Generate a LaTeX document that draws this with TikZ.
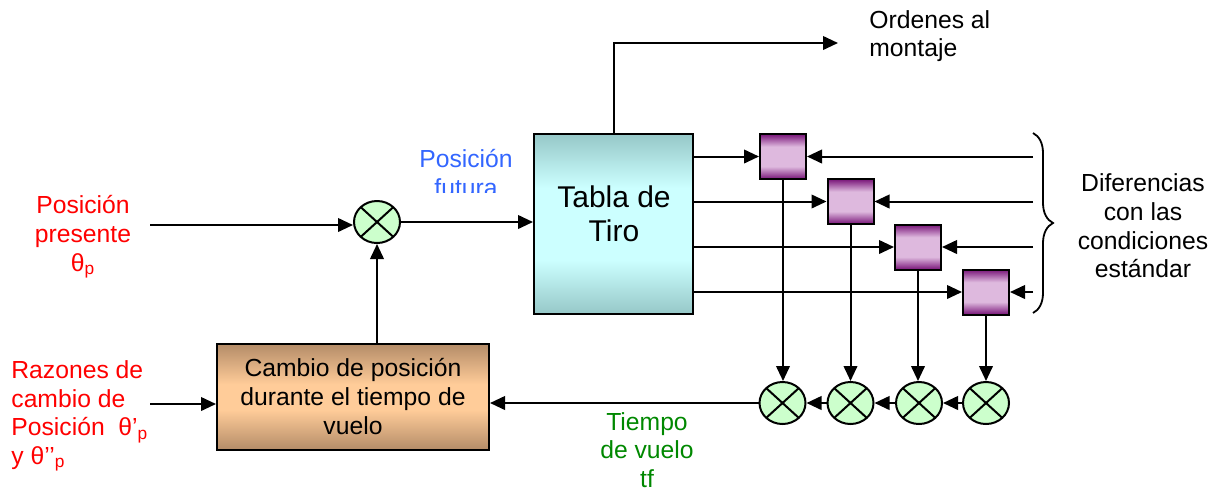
\documentclass[tikz,border=0pt]{standalone}
\usepackage{fontspec}
\setmainfont{Liberation Sans}
\usetikzlibrary{arrows.meta,shapes.geometric,decorations.pathreplacing}
\definecolor{tdk}{RGB}{150,200,200}
\definecolor{tlt}{RGB}{204,255,255}
\definecolor{pdk}{RGB}{120,20,120}
\definecolor{plt}{RGB}{222,185,222}
\definecolor{bdk}{RGB}{180,140,104}
\definecolor{blt}{RGB}{255,204,153}
\definecolor{cgreen}{RGB}{204,255,204}
\definecolor{tred}{RGB}{255,0,0}
\definecolor{tblue}{RGB}{51,102,255}
\definecolor{tgreen}{RGB}{0,136,0}
\pgfdeclareverticalshading{tabsh}{100bp}{color(0bp)=(tdk); color(25bp)=(tdk); color(40bp)=(tlt); color(60bp)=(tlt); color(75bp)=(tdk); color(100bp)=(tdk)}
\pgfdeclareverticalshading{purpsh}{100bp}{color(0bp)=(pdk); color(25bp)=(pdk); color(39bp)=(plt); color(61bp)=(plt); color(75bp)=(pdk); color(100bp)=(pdk)}
\pgfdeclareverticalshading{brownsh}{100bp}{color(0bp)=(bdk); color(25bp)=(bdk); color(44bp)=(blt); color(56bp)=(blt); color(75bp)=(bdk); color(100bp)=(bdk)}
\begin{document}
\begin{tikzpicture}[x=0.5pt,y=-0.5pt,
  lbl/.style={inner sep=0pt, font=\fontsize{12.35pt}{14.3pt}\selectfont},
  arr/.style={line width=1pt, -{Triangle[length=7.5pt,width=6.8pt]}},
  sumnode/.style={ellipse, draw, line width=1pt, fill=cgreen, inner sep=0pt,
    minimum width=23pt, minimum height=21pt,
    path picture={\draw[line width=1pt] (path picture bounding box.north west) -- (path picture bounding box.south east)
      (path picture bounding box.north east) -- (path picture bounding box.south west);}},
  tablabox/.style={draw, line width=1pt, shade, shading=tabsh, minimum width=79.5pt, minimum height=90pt, inner sep=0pt},
  pbox/.style={draw, line width=1pt, shade, shading=purpsh, minimum width=23pt, minimum height=22.5pt, inner sep=0pt},
  cambiobox/.style={draw, line width=1pt, shade, shading=brownsh, minimum width=136pt, minimum height=53pt, inner sep=0pt,
    align=center, font=\fontsize{12.35pt}{14.5pt}\selectfont}
]
\useasboundingbox (0,0) rectangle (1226,494);

% main blocks
\node[sumnode] (s0) at (377,222) {};
\node[tablabox] (tabla) at (613.5,224) {};
\node[inner sep=0pt, align=center, font=\fontsize{15pt}{17pt}\selectfont] (tablat) at (614,214) {Tabla de\\Tiro};
\node[cambiobox] (cambio) at (353,397) {Cambio de posición\\durante el tiempo de\\vuelo};

\node[pbox] (p1) at (783,156.5) {};
\node[pbox] (p2) at (850.5,201.5) {};
\node[pbox] (p3) at (918,247) {};
\node[pbox] (p4) at (986,292) {};

\node[sumnode] (c1) at (782.5,403) {};
\node[sumnode] (c2) at (850.5,403) {};
\node[sumnode] (c3) at (919,403) {};
\node[sumnode] (c4) at (986,403) {};

% free ends
\coordinate (inP) at (150,225);
\coordinate (inR) at (150,404);
\coordinate (ord) at (838,43);
\coordinate (r1) at (1033,156.5);
\coordinate (r2) at (1033,201.5);
\coordinate (r3) at (1033,247);
\coordinate (r4) at (1033,292);
\coordinate (bt) at (1033,133);
\coordinate (bb) at (1033,313);

% connectors
\draw[arr] (inP) -- (inP -| s0.west);
\draw[arr] (s0) -- (s0 -| tabla.west);
\draw[arr] (cambio.north -| s0) -- (s0.south);
\draw[arr] (inR) -- (inR -| cambio.west);
\draw[arr] (tabla.north) |- (ord);

\foreach \i in {1,2,3,4}{
  \draw[arr] (tabla.east |- p\i) -- (p\i.west);
  \draw[arr] (r\i) -- (p\i.east);
  \draw[arr] (p\i.south) -- (p\i.south |- c\i.north);
}
\draw[arr] (c4) -- (c3);
\draw[arr] (c3) -- (c2);
\draw[arr] (c2) -- (c1);
\draw[arr] (c1) -- (c1 -| cambio.east);

\draw[decorate, decoration={brace, amplitude=10pt}, line width=0.9pt] (bt) -- (bb);

% labels
\node[lbl, text=tred, align=center] (posp) at (83,237) {Posición\\presente\\θ\textsubscript{p}};
\node[lbl, text=tred, align=left, anchor=west] (raz) at (11,416) {Razones de\\cambio de\\Posición~~θ’\textsubscript{p}\\y θ’’\textsubscript{p}};
\begin{scope}
  \clip (380,120) rectangle (560,192);
  \node[lbl, text=tblue, align=center] (fut) at (466,173) {Posición\\futura};
\end{scope}
\node[lbl, align=left, anchor=west] (orden) at (869,36) {Ordenes al\\montaje};
\node[lbl, text=tgreen, align=center] (tiempo) at (647,450) {Tiempo\\de vuelo\\tf};
\node[lbl, align=center] (dif) at (1143,226) {Diferencias\\con las\\condiciones\\estándar};
\end{tikzpicture}
\end{document}
